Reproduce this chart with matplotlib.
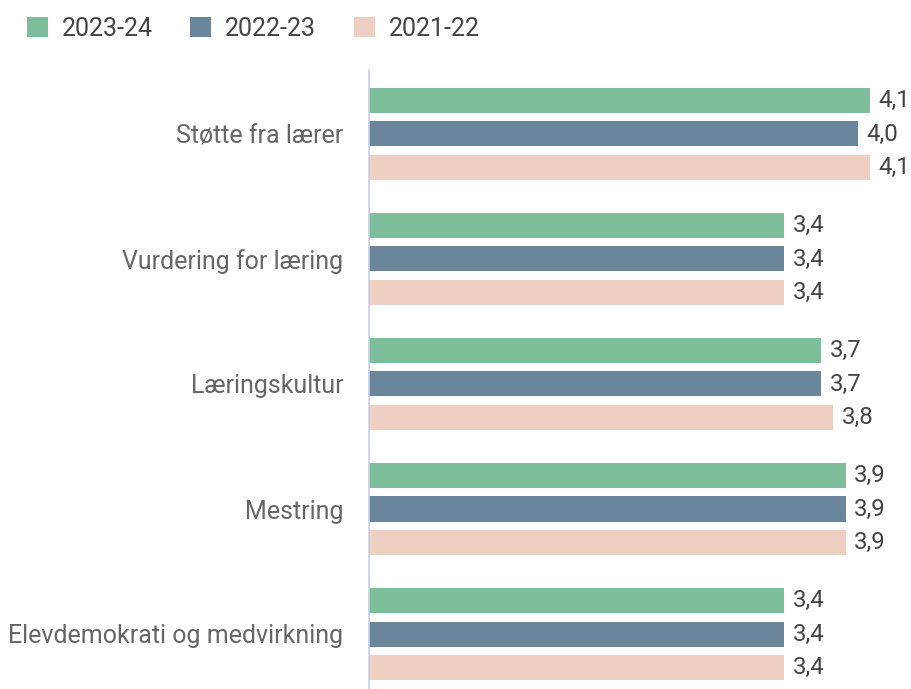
import matplotlib
matplotlib.use("Agg")
import matplotlib.pyplot as plt
from matplotlib.patches import Patch
import numpy as np

plt.rcParams['font.family'] = ['Roboto', 'DejaVu Sans']

categories = ["Støtte fra lærer", "Vurdering for læring", "Læringskultur", "Mestring",
              "Elevdemokrati og medvirkning"]
series_names = ["2023-24", "2022-23", "2021-22"]
v_2023_24 = [4.1, 3.4, 3.7, 3.9, 3.4]
v_2022_23 = [4.0, 3.4, 3.7, 3.9, 3.4]
v_2021_22 = [4.1, 3.4, 3.8, 3.9, 3.4]
series = [v_2023_24, v_2022_23, v_2021_22]
colors = ["#7dbf9a", "#6a869d", "#eecfc1"]

W, H = 911, 689
fig = plt.figure(figsize=(W / 100, H / 100), dpi=100)
ax_left, ax_right = 369, 911
ax_top, ax_bot = 70, 689
ax = fig.add_axes([ax_left / W, 1 - ax_bot / H, (ax_right - ax_left) / W, (ax_bot - ax_top) / H])

px_per_unit = 122.2
ax.set_xlim(0, (ax_right - ax_left) / px_per_unit)
ax.set_ylim(4.44, -0.512)

pitch = 0.268
bh = 0.2
y = np.arange(len(categories))
for k, (vals, c) in enumerate(zip(series, colors)):
    yy = y + (k - 1) * pitch
    ax.barh(yy, vals, height=bh, color=c, edgecolor='none')
    for yi, v in zip(yy, vals):
        ax.text(v + 0.07, yi, f"{v:.1f}".replace('.', ','), va='center', ha='left',
                fontsize=17.3, color="#444444")

ax.set_yticks(y)
ax.set_yticklabels(categories, fontsize=18, color="#666666")
ax.tick_params(axis='y', length=0, pad=18.5)
ax.set_xticks([])
for s in ['top', 'right', 'bottom']:
    ax.spines[s].set_visible(False)
ax.spines['left'].set_color("#c8d0e4")
ax.spines['left'].set_linewidth(1.2)

handles = [Patch(facecolor=c, edgecolor='none', label=n) for c, n in zip(colors, series_names)]
fig.legend(handles=handles, loc='upper left', bbox_to_anchor=(24 / W, 1 - 14 / H), ncol=3,
           frameon=False, fontsize=18, handlelength=0.85, handleheight=0.85,
           handletextpad=0.55, columnspacing=1.5, labelcolor="#444444", borderpad=0.1,
           borderaxespad=0.0)

fig.savefig("out.png", dpi=100)
